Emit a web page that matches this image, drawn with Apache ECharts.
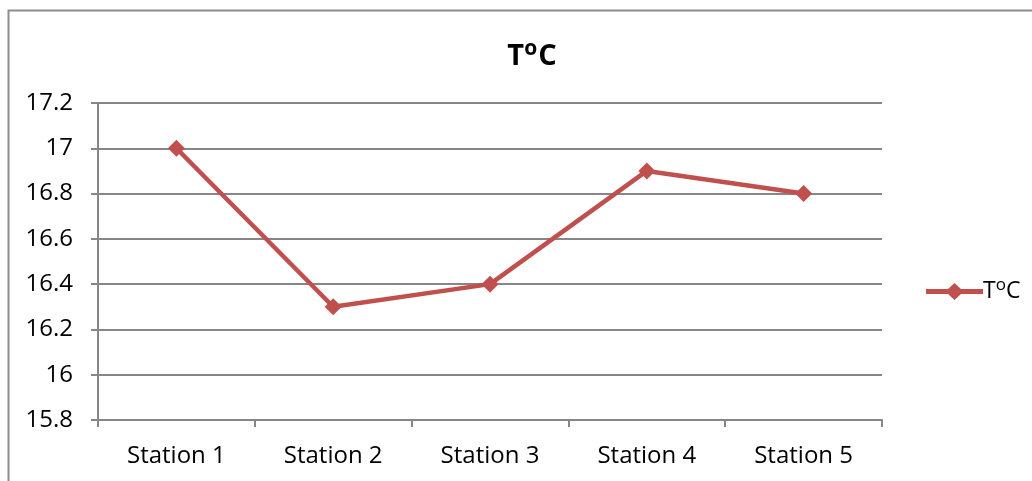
<!DOCTYPE html>
<html>
<head>
<meta charset="utf-8">
<script src="https://cdn.jsdelivr.net/npm/echarts@6/dist/echarts.min.js"></script>
<style>
  html, body { margin: 0; padding: 0; background: #fff; }
  #chart { width: 1032px; height: 481px; }
</style>
</head>
<body>
<div id="chart"></div>
<script>
// Water temperature per station
const stations = ['Station 1', 'Station 2', 'Station 3', 'Station 4', 'Station 5'];
const temperature = [17, 16.3, 16.4, 16.9, 16.8];
const yMin = 15.8;
const yMax = 17.2;
const yStep = 0.2;

const FONT = '"Open Sans", "Noto Sans", sans-serif';
const LINE_COLOR = '#C0504D';
const AXIS_COLOR = '#868686';

// Legend marker: thick line with a diamond in the middle
const LEGEND_ICON = 'path://M0,6 L22,6 L28.5,0 L35,6 L57,6 L57,11 L35,11 L28.5,17 L22,11 L0,11 Z';

const chart = echarts.init(document.getElementById('chart'));
chart.setOption({
  animation: false,
  backgroundColor: '#fff',
  graphic: [{
    type: 'rect',
    shape: { x: 8.5, y: 10.5, width: 1040, height: 500 },
    style: { fill: 'none', stroke: '#8c8c8c', lineWidth: 2 },
    silent: true
  }],
  title: {
    text: 'T{s|o}C',
    left: 527,
    textAlign: 'center',
    top: 34,
    textStyle: {
      fontFamily: FONT,
      fontWeight: 'bold',
      fontSize: 29,
      color: '#000',
      rich: {
        s: { fontFamily: FONT, fontWeight: 'bold', fontSize: 21, color: '#000', padding: [0, 1, 14, 0] }
      }
    }
  },
  legend: {
    orient: 'vertical',
    left: 921,
    top: 272,
    icon: LEGEND_ICON,
    itemWidth: 57,
    itemHeight: 17,
    itemGap: 0,
    formatter: () => 'T{s|o}C',
    textStyle: {
      fontFamily: FONT,
      fontSize: 23,
      color: '#000',
      padding: [0, 0, 0, -5],
      rich: {
        s: { fontFamily: FONT, fontSize: 17, color: '#000', padding: [0, 0, 12, 0] }
      }
    }
  },
  grid: { left: 98, right: 150, top: 103, bottom: 61, containLabel: false },
  xAxis: {
    type: 'category',
    data: stations,
    boundaryGap: true,
    axisLine: { lineStyle: { color: AXIS_COLOR, width: 2 } },
    axisTick: { show: true, length: 7, inside: false, lineStyle: { color: AXIS_COLOR, width: 2 } },
    axisLabel: { fontFamily: FONT, fontSize: 24, color: '#000', margin: 24 }
  },
  yAxis: {
    type: 'value',
    min: yMin,
    max: yMax,
    interval: yStep,
    axisLine: { show: true, lineStyle: { color: AXIS_COLOR, width: 2 } },
    axisTick: { show: true, length: 7, lineStyle: { color: AXIS_COLOR, width: 2 } },
    splitLine: { show: true, lineStyle: { color: AXIS_COLOR, width: 2 } },
    axisLabel: {
      fontFamily: FONT, fontSize: 24, color: '#000', margin: 25,
      formatter: v => String(Math.round(v * 10) / 10)
    }
  },
  series: [{
    name: 'ToC',
    type: 'line',
    data: temperature,
    symbol: 'diamond',
    symbolSize: 17,
    lineStyle: { color: LINE_COLOR, width: 4.5 },
    itemStyle: { color: LINE_COLOR },
    z: 5
  }]
});
</script>
</body>
</html>
